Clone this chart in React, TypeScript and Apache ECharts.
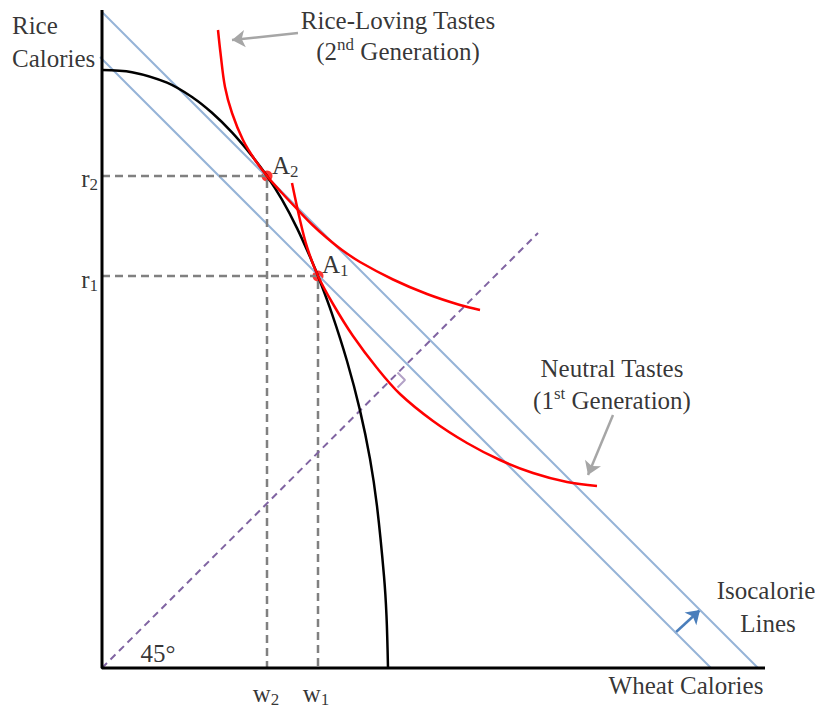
import React, { useEffect, useRef } from "react";
import * as echarts from "echarts";

// Data (x = wheat calories, y = rice calories; arbitrary units)
const AXIS_LINES: [number, number][] = [[0, 65.8], [0, 0], [66.3, 0]];
const OUTER_ISO: [number, number][] = [[0, 65.6], [65.6, 0]];
const INNER_ISO: [number, number][] = [[-0.2, 61.1], [60.9, 0]];
const DIAGONAL: [number, number][] = [[0, 0], [43.6, 43.5]];
const PPF: [number, number][] = [
  [0, 59.8], [3, 59.58], [6.5, 58.53], [9.1, 57.03], [11, 55.52], [13, 53.56],
  [15, 51.21], [16.5, 49.2], [18, 46.83], [19.5, 43.99], [21, 40.66], [21.6, 39.2],
  [23, 35.42], [24.5, 30.7], [25.8, 25.76], [26.8, 20.91], [27.5, 16.18], [28.2, 9.18],
  [28.45, 5.2], [28.6, 0],
];
const RICE_LOVING: [number, number][] = [
  [11.6, 63.8], [11.85, 61.5], [12.3, 58.1], [13.0, 55.5], [14.1, 52.8], [15.3, 50.8],
  [16.5, 49.2], [18.0, 47.5], [19.5, 45.9], [21.0, 44.35], [22.5, 43.0], [24.0, 41.8],
  [25.8, 40.6], [29.1, 38.85], [32.5, 37.4], [35.8, 36.3], [37.8, 35.8],
];
const NEUTRAL: [number, number][] = [
  [19.0, 48.5], [19.8, 44.8], [20.5, 42.1], [21.6, 39.2], [23.1, 36.4], [25.1, 33.2],
  [27.5, 30.0], [29.8, 27.4], [33.1, 24.7], [36.5, 22.5], [39.8, 20.8], [43.1, 19.5],
  [46.5, 18.6], [49.5, 18.2],
];
const A1: [number, number] = [21.6, 39.2];
const A2: [number, number] = [16.5, 49.2];
const RIGHT_ANGLE: [number, number][] = [[29.55, 29.55], [30.3, 28.8], [29.55, 28.05]];
const ARROW_RICE: [number, number][] = [[19.6, 63.5], [13.0, 62.8]];
const ARROW_NEUTRAL: [number, number][] = [[51.1, 25.3], [48.6, 19.3]];
const ARROW_ISO: [number, number][] = [[57.3, 3.5], [59.8, 5.8]];

const FONT = "'Liberation Serif', 'Times New Roman', serif";

const TEXTS: { text: string; at: [number, number]; align: string }[] = [
  { text: "Rice", at: [-9.0, 64.3], align: "left" },
  { text: "Calories", at: [-9.0, 61.0], align: "left" },
  { text: "Rice-Loving Tastes", at: [29.6, 64.8], align: "center" },
  { text: "(2{sup|nd} Generation)", at: [29.6, 61.7], align: "center" },
  { text: "Neutral Tastes", at: [51.0, 30.0], align: "center" },
  { text: "(1{sup|st} Generation)", at: [51.0, 26.8], align: "center" },
  { text: "Isocalorie", at: [66.4, 7.8], align: "center" },
  { text: "Lines", at: [66.6, 4.5], align: "center" },
  { text: "Wheat Calories", at: [58.4, -1.7], align: "center" },
  { text: "45°", at: [5.6, 1.5], align: "center" },
  { text: "r{sub|2}", at: [-0.4, 49.0], align: "right" },
  { text: "r{sub|1}", at: [-0.4, 38.9], align: "right" },
  { text: "A{sub|2}", at: [17.0, 50.3], align: "left" },
  { text: "A{sub|1}", at: [22.0, 40.4], align: "left" },
  { text: "w{sub|2}", at: [16.4, -2.5], align: "center" },
  { text: "w{sub|1}", at: [21.4, -2.5], align: "center" },
];

export default function App() {
  const ref = useRef<HTMLDivElement>(null);
  useEffect(() => {
    if (!ref.current) return;
    const chart = echarts.init(ref.current, undefined, { renderer: "svg" });
    const plainLine = (data: [number, number][], color: string, width: number, type: any = "solid", smooth: any = false) => ({
      type: "line",
      data,
      symbol: "none",
      smooth,
      clip: false,
      silent: true,
      lineStyle: { color, width, type },
    });
    const arrow = (coords: [number, number][], color: string) => ({
      type: "lines",
      coordinateSystem: "cartesian2d",
      symbol: ["none", "arrow"],
      symbolSize: 13,
      silent: true,
      lineStyle: { color, width: 2.5, opacity: 1 },
      data: [{ coords }],
    });
    const option: any = {
      animation: false,
      grid: { left: 0, right: 0, top: 0, bottom: 0 },
      xAxis: { type: "value", min: -10.2, max: 71.7, show: false },
      yAxis: { type: "value", min: -4.1, max: 66.8, show: false },
      series: [
        plainLine(OUTER_ISO, "#95b3d7", 2),
        plainLine(INNER_ISO, "#95b3d7", 2),
        plainLine([[0, A2[1]], A2, [A2[0], 0]], "#808080", 2.5, [8, 5]),
        plainLine([[0, A1[1]], A1, [A1[0], 0]], "#808080", 2.5, [8, 5]),
        plainLine(DIAGONAL, "#8064a2", 2, [7, 5]),
        plainLine(RIGHT_ANGLE, "#b3a2c7", 2),
        plainLine(PPF, "#000000", 2.5, "solid", 0.35),
        plainLine(RICE_LOVING, "#ff0000", 2.5, "solid", 0.35),
        plainLine(NEUTRAL, "#ff0000", 2.5, "solid", 0.35),
        plainLine(AXIS_LINES, "#000000", 3),
        {
          type: "scatter",
          data: [A1, A2],
          symbolSize: 11,
          silent: true,
          itemStyle: { color: "#ff0000" },
        },
        arrow(ARROW_RICE, "#a6a6a6"),
        arrow(ARROW_NEUTRAL, "#a6a6a6"),
        arrow(ARROW_ISO, "#4a7ebb"),
        {
          type: "scatter",
          symbolSize: 1,
          clip: false,
          silent: true,
          itemStyle: { color: "rgba(0,0,0,0)" },
          data: TEXTS.map((t) => ({
            value: t.at,
            label: {
              show: true,
              position: "inside",
              align: t.align,
              verticalAlign: "middle",
              formatter: t.text,
              color: "#000",
              fontFamily: FONT,
              fontSize: 25,
              lineHeight: 30,
              rich: {
                sub: { fontSize: 17, lineHeight: 17, fontFamily: FONT, color: "#000", verticalAlign: "bottom" },
                sup: { fontSize: 17, lineHeight: 17, fontFamily: FONT, color: "#000", verticalAlign: "top" },
              },
            },
          })),
        },
      ],
    };
    chart.setOption(option);
    return () => chart.dispose();
  }, []);
  return (
    <div
      ref={ref}
      style={{ position: "fixed", left: 0, top: 0, width: 819, height: 709, background: "#fff" }}
    />
  );
}
